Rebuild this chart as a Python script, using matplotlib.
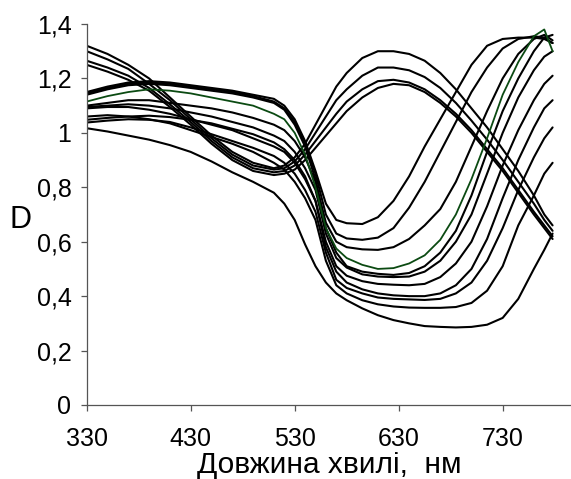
import matplotlib
matplotlib.use('Agg')
import matplotlib.pyplot as plt

plt.rcParams['font.family'] = ['Liberation Sans', 'DejaVu Sans']

wl = [330, 350, 370, 390, 410, 430, 450, 470, 490, 510, 520, 530, 540, 550, 560,
      570, 580, 595, 610, 625, 640, 655, 670, 685, 700, 715, 730, 745, 760, 770, 778]

A1 = [1.32, 1.29, 1.25, 1.20, 1.13, 1.06, 0.99, 0.93, 0.89, 0.87, 0.88, 0.91, 0.96, 1.03, 1.10,
      1.17, 1.22, 1.275, 1.30, 1.30, 1.29, 1.265, 1.22, 1.16, 1.09, 1.02, 0.94, 0.86, 0.77, 0.70, 0.66]
A2 = [1.30, 1.27, 1.235, 1.18, 1.12, 1.05, 0.98, 0.92, 0.88, 0.865, 0.87, 0.895, 0.94, 1.00, 1.06,
      1.12, 1.16, 1.21, 1.24, 1.24, 1.23, 1.205, 1.165, 1.11, 1.045, 0.975, 0.90, 0.82, 0.74, 0.68, 0.64]
A3 = [1.265, 1.24, 1.21, 1.165, 1.105, 1.04, 0.97, 0.91, 0.87, 0.855, 0.86, 0.88, 0.92, 0.97, 1.02,
      1.07, 1.115, 1.16, 1.19, 1.195, 1.185, 1.16, 1.12, 1.07, 1.01, 0.94, 0.87, 0.79, 0.71, 0.66, 0.62]
A4 = [1.25, 1.225, 1.195, 1.155, 1.095, 1.03, 0.96, 0.90, 0.86, 0.845, 0.85, 0.865, 0.90, 0.945, 0.99,
      1.035, 1.08, 1.13, 1.165, 1.18, 1.175, 1.15, 1.11, 1.06, 1.00, 0.93, 0.86, 0.78, 0.70, 0.65, 0.61]

B1 = [1.15, 1.17, 1.185, 1.19, 1.185, 1.175, 1.165, 1.155, 1.14, 1.125, 1.10, 1.05, 0.97, 0.86, 0.74,
      0.68, 0.668, 0.665, 0.69, 0.75, 0.84, 0.95, 1.05, 1.15, 1.25, 1.32, 1.345, 1.35, 1.35, 1.345, 1.33]
B2 = [1.145, 1.165, 1.18, 1.185, 1.18, 1.17, 1.16, 1.15, 1.135, 1.115, 1.09, 1.04, 0.96, 0.85, 0.70,
      0.63, 0.612, 0.607, 0.615, 0.65, 0.725, 0.82, 0.93, 1.04, 1.15, 1.24, 1.31, 1.345, 1.355, 1.35, 1.33]
B3 = [1.10, 1.11, 1.12, 1.12, 1.11, 1.10, 1.09, 1.075, 1.055, 1.03, 1.01, 0.97, 0.91, 0.82, 0.67,
      0.60, 0.58, 0.572, 0.57, 0.58, 0.61, 0.66, 0.72, 0.82, 0.95, 1.08, 1.20, 1.29, 1.345, 1.36, 1.34]
G = [1.115, 1.135, 1.15, 1.16, 1.155, 1.145, 1.13, 1.115, 1.10, 1.07, 1.05, 1.00, 0.92, 0.80, 0.65,
     0.575, 0.54, 0.515, 0.50, 0.503, 0.52, 0.55, 0.607, 0.70, 0.83, 0.98, 1.14, 1.26, 1.355, 1.38, 1.30]
B5 = [1.14, 1.16, 1.175, 1.18, 1.175, 1.165, 1.155, 1.145, 1.13, 1.11, 1.085, 1.03, 0.95, 0.83, 0.65,
      0.56, 0.51, 0.49, 0.482, 0.478, 0.485, 0.51, 0.56, 0.64, 0.77, 0.93, 1.08, 1.20, 1.30, 1.35, 1.36]
B6 = [1.095, 1.10, 1.105, 1.10, 1.09, 1.075, 1.06, 1.04, 1.02, 0.99, 0.97, 0.93, 0.87, 0.79, 0.63,
      0.54, 0.505, 0.48, 0.472, 0.47, 0.472, 0.49, 0.53, 0.60, 0.70, 0.85, 1.00, 1.13, 1.23, 1.28, 1.30]
B7 = [1.09, 1.095, 1.095, 1.085, 1.07, 1.05, 1.03, 1.01, 0.98, 0.95, 0.93, 0.89, 0.83, 0.75, 0.60,
      0.51, 0.475, 0.455, 0.445, 0.442, 0.44, 0.445, 0.47, 0.52, 0.60, 0.73, 0.88, 1.01, 1.12, 1.18, 1.21]
B8 = [1.048, 1.055, 1.06, 1.063, 1.058, 1.048, 1.035, 1.015, 0.995, 0.965, 0.94, 0.90, 0.84, 0.75, 0.58,
      0.49, 0.45, 0.425, 0.41, 0.403, 0.40, 0.40, 0.41, 0.44, 0.50, 0.61, 0.76, 0.90, 1.02, 1.09, 1.12]
B9 = [1.038, 1.045, 1.05, 1.048, 1.04, 1.02, 0.995, 0.97, 0.945, 0.915, 0.89, 0.85, 0.79, 0.71, 0.56,
      0.46, 0.43, 0.41, 0.395, 0.39, 0.388, 0.386, 0.39, 0.41, 0.45, 0.53, 0.65, 0.79, 0.91, 0.98, 1.02]
B10 = [1.06, 1.065, 1.06, 1.05, 1.035, 1.01, 0.985, 0.96, 0.93, 0.89, 0.865, 0.82, 0.76, 0.68, 0.53,
       0.44, 0.41, 0.385, 0.37, 0.362, 0.358, 0.357, 0.357, 0.36, 0.375, 0.42, 0.51, 0.66, 0.77, 0.85, 0.89]
B11 = [1.017, 1.005, 0.99, 0.975, 0.955, 0.93, 0.895, 0.855, 0.82, 0.78, 0.74, 0.68, 0.59, 0.51, 0.45,
       0.41, 0.385, 0.355, 0.33, 0.312, 0.30, 0.29, 0.287, 0.285, 0.287, 0.295, 0.32, 0.39, 0.50, 0.57, 0.63]

black_series = [A1, A2, A3, A4, B1, B2, B3, B5, B6, B7, B8, B9, B10, B11]

x_ticks = [330, 430, 530, 630, 730]
y_ticks = [0, 0.2, 0.4, 0.6, 0.8, 1.0, 1.2, 1.4]
y_tick_labels = ['0', '0,2', '0,4', '0,6', '0,8', '1', '1,2', '1,4']
x_label = 'Довжина хвилі,  нм'
y_label = 'D'

W, H = 571, 479
fig = plt.figure(figsize=(W / 100, H / 100), dpi=100)
ax = fig.add_axes([86.7 / W, 74 / H, (W - 86.7) / W, 381 / H])

for s in black_series:
    ax.plot(wl, s, color='black', lw=1.5, solid_joinstyle='round', solid_capstyle='round')
ax.plot(wl, G, color='#0b4a12', lw=1.3, solid_joinstyle='round')

ax.set_xlim(330, 795.7)
ax.set_ylim(0, 1.4)
ax.set_xticks(x_ticks)
ax.set_xticklabels([str(v) for v in x_ticks])
ax.set_yticks(y_ticks)
ax.set_yticklabels(y_tick_labels)

for side in ('top', 'right'):
    ax.spines[side].set_visible(False)
for side in ('left', 'bottom'):
    ax.spines[side].set_color('#555555')
    ax.spines[side].set_linewidth(0.9)

ax.tick_params(axis='y', direction='out', length=4, width=0.9, pad=7,
               labelsize=18, color='#555555')
ax.tick_params(axis='x', direction='out', length=4.5, width=0.9, pad=11.5,
               labelsize=18, color='#555555')

fig.text((86.7 + W) / 2 / W, (H - 473) / H, x_label, ha='center', va='baseline', fontsize=21.5)
fig.text(21 / W, (H - 228) / H, y_label, ha='center', va='baseline', fontsize=22)

fig.savefig('out.png', dpi=100)
